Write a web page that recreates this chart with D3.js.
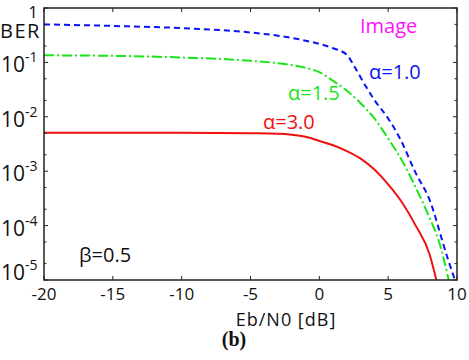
<!DOCTYPE html>
<html>
<head>
<meta charset="utf-8">
<script src="https://cdn.jsdelivr.net/npm/d3@7"></script>
<style>
  body { margin: 0; background: #fff; }
  svg text { font-family: "Open Sans", sans-serif; }
</style>
</head>
<body>
<svg width="469" height="360"></svg>
<script>

// Eb/N0 in dB, BER values
let ebnoA10 = [-20, -15, -10, -5, -2, -1, 0, 1, 2, 2.6, 3.4, 4, 5, 5.8, 7, 8, 9.3, 9.85];
let berA10 = [0.50, 0.468, 0.427, 0.355, 0.282, 0.251, 0.219, 0.182, 0.138, 0.0794, 0.0355,
              0.0204, 0.00933, 0.00427, 9.3e-4, 3.0e-4, 2.6e-5, 1e-5];

let ebnoA15 = [-20, -15, -10, -5, -2, -1, 0, 1, 2, 3, 4, 5, 6, 7, 8, 8.7, 9.4];
let berA15 = [0.135, 0.132, 0.123, 0.107, 0.0891, 0.0794, 0.066, 0.0457, 0.0302, 0.0178,
              0.00933, 0.00398, 0.00158, 5.0e-4, 1.41e-4, 5.0e-5, 1e-5];

let ebnoA30 = [-20, -10, -5, -3, -2, -1, 0, 1, 2, 3, 4, 5, 6, 7, 8, 8.5];
let berA30 = [5.1e-3, 5.1e-3, 5.0e-3, 4.9e-3, 4.7e-3, 4.3e-3, 3.6e-3, 3.0e-3, 2.34e-3,
              1.70e-3, 1.07e-3, 5.75e-4, 2.69e-4, 1.0e-4, 3.0e-5, 1e-5];

let xTicks = [-20, -15, -10, -5, 0, 5, 10];
let yExponents = [0, -1, -2, -3, -4, -5];
let yMinor = [5e-1, 2e-1, 5e-2, 2e-2, 5e-3, 2e-3, 5e-4, 2e-4, 5e-5, 2e-5];

let svg = d3.select('svg');

let plotL = 44, plotR = 457, plotT = 8, plotB = 280;

let xScale = d3.scaleLinear()
               .domain([-20, 10])
               .range([plotL, plotR]);

let yScale = d3.scaleLog()
               .domain([1e-5, 1])
               .range([plotB, plotT]);

// curves
let series = [
  { x: ebnoA10, y: berA10, color: '#0a14f5', dash: '6,4' },
  { x: ebnoA15, y: berA15, color: '#19e619', dash: '10,3,2,3' },
  { x: ebnoA30, y: berA30, color: '#f01010', dash: null }
];

let line = d3.line()
             .x(d => xScale(d[0]))
             .y(d => yScale(d[1]))
             .curve(d3.curveMonotoneX);

svg.append('clipPath').attr('id', 'plotClip')
   .append('rect')
   .attr('x', plotL).attr('y', plotT)
   .attr('width', plotR - plotL).attr('height', plotB - plotT);

series.forEach(function(s) {
  let pts = s.x.map((v, i) => [v, s.y[i]]);
  svg.append('path')
     .attr('d', line(pts))
     .attr('fill', 'none')
     .attr('stroke', s.color)
     .attr('stroke-width', 2)
     .attr('stroke-dasharray', s.dash)
     .attr('clip-path', 'url(#plotClip)');
});

// frame and ticks
let axisColor = '#222';

svg.append('rect')
   .attr('x', plotL).attr('y', plotT)
   .attr('width', plotR - plotL).attr('height', plotB - plotT)
   .attr('fill', 'none')
   .attr('stroke', axisColor)
   .attr('stroke-width', 1.5);

let ticks = svg.append('g').attr('stroke', axisColor).attr('stroke-width', 1);

xTicks.forEach(function(t) {
  let x = xScale(t);
  ticks.append('line').attr('x1', x).attr('x2', x).attr('y1', plotB).attr('y2', plotB - 4);
  ticks.append('line').attr('x1', x).attr('x2', x).attr('y1', plotT).attr('y2', plotT + 4);
});

yExponents.forEach(function(e) {
  let y = yScale(Math.pow(10, e));
  ticks.append('line').attr('x1', plotL).attr('x2', plotL + 4).attr('y1', y).attr('y2', y);
  ticks.append('line').attr('x1', plotR).attr('x2', plotR - 4).attr('y1', y).attr('y2', y);
});

yMinor.forEach(function(v) {
  let y = yScale(v);
  ticks.append('line').attr('x1', plotL).attr('x2', plotL + 2.5).attr('y1', y).attr('y2', y);
  ticks.append('line').attr('x1', plotR).attr('x2', plotR - 2.5).attr('y1', y).attr('y2', y);
});

// x tick labels
svg.append('g')
   .selectAll('text')
   .data(xTicks)
   .join('text')
   .attr('x', d => xScale(d))
   .attr('y', 300)
   .attr('text-anchor', 'middle')
   .attr('font-size', 17)
   .attr('fill', '#111')
   .text(d => d);

// y tick labels
yExponents.forEach(function(e) {
  let y = yScale(Math.pow(10, e));
  if (e === 0) {
    svg.append('text')
       .attr('x', 38).attr('y', y + 10)
       .attr('text-anchor', 'end')
       .attr('font-size', 17)
       .attr('fill', '#111')
       .text('1');
    return;
  }
  let yy = Math.min(y + 2, plotB - 8);
  let t = svg.append('text')
             .attr('x', 1).attr('y', yy + 8)
             .attr('font-size', 21)
             .attr('fill', '#111');
  t.append('tspan').text('10');
  t.append('tspan').attr('dy', -10).attr('font-size', 14).text('-' + Math.abs(e));
});

// axis titles
svg.append('text')
   .attr('x', 0).attr('y', 38)
   .attr('font-size', 20)
   .attr('letter-spacing', 1.5)
   .attr('fill', '#111')
   .text('BER');

svg.append('text')
   .attr('x', 286).attr('y', 326)
   .attr('text-anchor', 'middle')
   .attr('font-size', 18)
   .attr('letter-spacing', 1)
   .attr('fill', '#111')
   .text('Eb/N0 [dB]');

svg.append('text')
   .attr('x', 234).attr('y', 346)
   .attr('text-anchor', 'middle')
   .attr('font-size', 20)
   .attr('font-weight', 'bold')
   .style('font-family', '"Liberation Serif", serif')
   .attr('fill', '#111')
   .text('(b)');

// annotations
let notes = [
  { text: 'Image', x: 360, y: 33, color: '#ff10ff' },
  { text: '\u03b1=1.0', x: 369, y: 79, color: '#0a14f5' },
  { text: '\u03b1=1.5', x: 288, y: 100, color: '#19e619' },
  { text: '\u03b1=3.0', x: 263, y: 129, color: '#f01010' },
  { text: '\u03b2=0.5', x: 79, y: 262, color: '#111' }
];

svg.append('g')
   .selectAll('text')
   .data(notes)
   .join('text')
   .attr('x', d => d.x)
   .attr('y', d => d.y)
   .attr('font-size', 20)
   .attr('fill', d => d.color)
   .text(d => d.text);

</script>
</body>
</html>
